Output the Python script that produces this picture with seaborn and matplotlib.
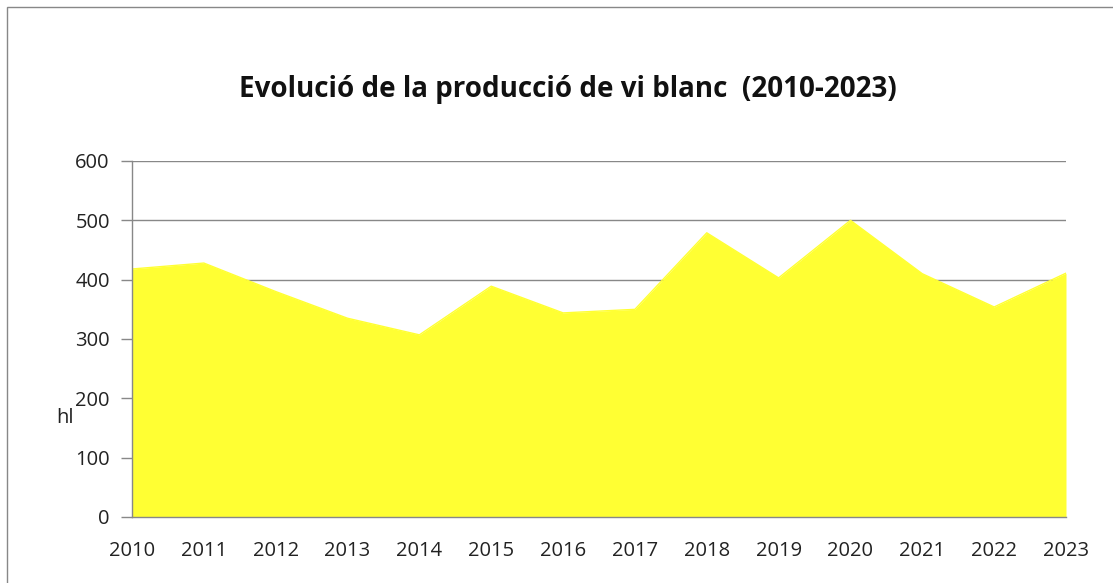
import matplotlib
matplotlib.use("Agg")
import matplotlib.pyplot as plt
import seaborn as sns
import pandas as pd
from matplotlib.patches import Rectangle

# data
years = [2010, 2011, 2012, 2013, 2014, 2015, 2016, 2017, 2018, 2019, 2020, 2021, 2022, 2023]
hl = [418, 428, 380, 335, 307, 389, 344, 350, 479, 403, 500, 410, 354, 411]
y_ticks = [0, 100, 200, 300, 400, 500, 600]

df = pd.DataFrame({"year": years, "hl": hl})

sns.set_theme(style="white")
plt.rcParams["font.family"] = ["Open Sans", "DejaVu Sans"]

yellow = "#FFFF33"
fig = plt.figure(figsize=(11.13, 5.83), dpi=100)
ax = fig.add_axes([132 / 1113, 1 - 517 / 583, (1066 - 132) / 1113, (517 - 161) / 583])

# outer chart frame
fig.patches.append(Rectangle((7 / 1113, -0.1), 1.2, 1 - 7 / 583 + 0.1,
                             transform=fig.transFigure, fill=False,
                             edgecolor="#888888", linewidth=1))

for t in y_ticks[1:]:
    ax.axhline(t, color="#888888", linewidth=1, zorder=1)

ax.fill_between(df["year"], 0, df["hl"], color=yellow, linewidth=0, zorder=2)
sns.lineplot(data=df, x="year", y="hl", ax=ax, color=yellow, linewidth=1, zorder=3)

ax.set_xlim(years[0], years[-1])
ax.set_ylim(0, 600)
ax.set_yticks(y_ticks)
ax.set_xticks(years)
ax.set_xticklabels([str(y) for y in years])
ax.tick_params(axis="y", length=8, width=1, color="#888888", labelsize=14.5,
               labelcolor="#222222", pad=8, left=True)
ax.tick_params(axis="x", length=0, labelsize=14.5, labelcolor="#222222", pad=17)

for s in ["top", "right"]:
    ax.spines[s].set_visible(False)
for s in ["left", "bottom"]:
    ax.spines[s].set_color("#888888")
    ax.spines[s].set_linewidth(1)
    ax.spines[s].set_zorder(4)

ax.set_xlabel("")
ax.set_ylabel("hl", rotation=0, fontsize=14.5, color="#222222", va="center", ha="center")
ax.yaxis.set_label_coords(-0.072, (517 - 418) / 356)

fig.text(568 / 1113, 1 - 90 / 583, "Evolució de la producció de vi blanc  (2010-2023)",
         ha="center", va="center", fontsize=20, fontweight="bold", color="#111111")

fig.savefig("out.png", dpi=100)
